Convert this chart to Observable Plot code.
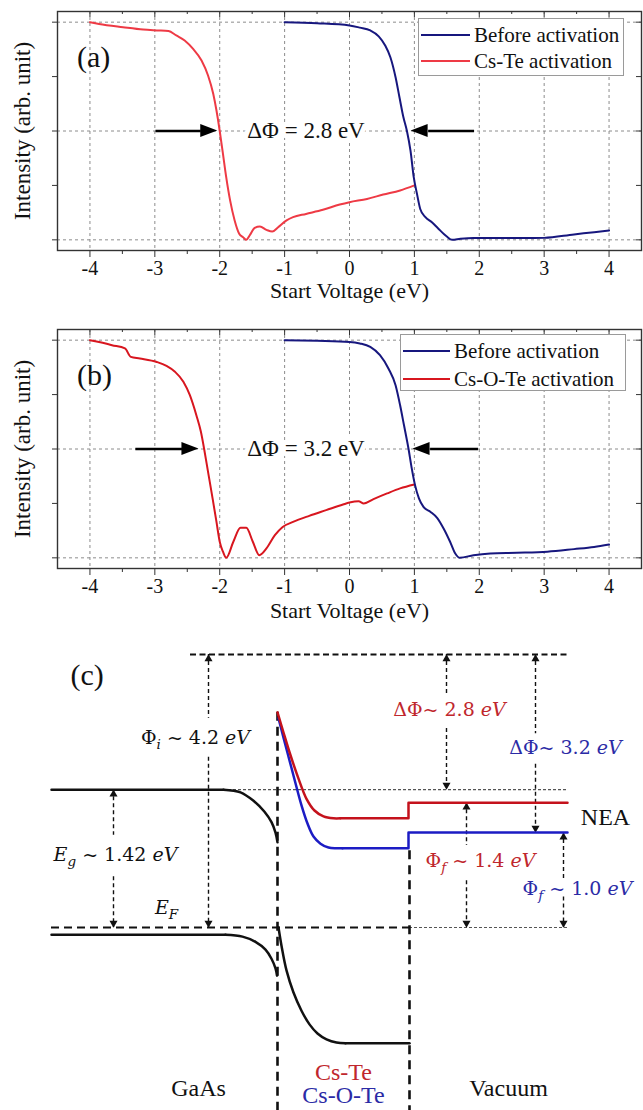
<!DOCTYPE html>
<html><head><meta charset="utf-8">
<script src="https://cdn.jsdelivr.net/npm/d3@7"></script>
<script src="https://cdn.jsdelivr.net/npm/@observablehq/plot@0.6"></script>
<style>
body{margin:0;background:#fff;}
#root{position:relative;width:643px;height:1110px;overflow:hidden;background:#fff;font-family:"Liberation Serif",serif;}
#root svg{position:absolute;left:0;}
.legend{position:absolute;border:1px solid #9a9a9a;background:#fff;box-sizing:border-box;}
.legend .row{position:absolute;left:0;height:26px;line-height:26px;white-space:nowrap;font-size:21px;color:#111;}
.legend .sw{position:absolute;top:12px;height:2.2px;}
.legend .lab{position:absolute;top:0;}
</style></head><body><div id="root"></div>
<script>
// ---------- DATA ----------
const xMajor = [-4, -3, -2, -1, 0, 1, 2, 3, 4];
const xMinor = [-3.5, -2.5, -1.5, -0.5, 0.5, 1.5, 2.5, 3.5];
const yMajor = [0, 0.5, 1];
const yMinor = [0.25, 0.75];

// panel (a)
const aBeforeX = [-1, -0.5, 0, 0.16, 0.32, 0.45, 0.55, 0.63, 0.71, 0.77, 0.83, 0.885, 0.94, 0.99, 1.04, 1.09, 1.17, 1.27, 1.37, 1.5, 1.58, 1.71, 1.91, 2.17, 2.69, 3.0, 3.46, 3.77, 4.0];
const aBeforeY = [1, 0.995, 0.985, 0.975, 0.962, 0.935, 0.893, 0.839, 0.747, 0.655, 0.564, 0.5, 0.41, 0.288, 0.211, 0.142, 0.104, 0.081, 0.051, 0.015, 0.0, 0.005, 0.009, 0.009, 0.008, 0.009, 0.025, 0.035, 0.043];
const aActX = [-4, -3.86, -3.49, -3.18, -2.97, -2.79, -2.67, -2.54, -2.41, -2.28, -2.18, -2.1, -2.05, -2.0, -1.95, -1.9, -1.84, -1.77, -1.7, -1.64, -1.59, -1.54, -1.46, -1.38, -1.28, -1.19, -1.1, -0.97, -0.87, -0.67, -0.41, -0.15, 0, 0.27, 0.52, 0.78, 1.0];
const aActY = [1.0, 0.992, 0.977, 0.966, 0.962, 0.959, 0.939, 0.916, 0.877, 0.824, 0.755, 0.671, 0.594, 0.5, 0.395, 0.288, 0.181, 0.089, 0.028, 0.012, 0.0, 0.02, 0.055, 0.061, 0.046, 0.038, 0.058, 0.089, 0.104, 0.119, 0.138, 0.162, 0.173, 0.188, 0.208, 0.227, 0.25];

// panel (b)
const bBeforeX = [-1, -0.5, 0, 0.16, 0.32, 0.47, 0.6, 0.71, 0.78, 0.84, 0.91, 0.96, 1.01, 1.07, 1.14, 1.25, 1.35, 1.45, 1.55, 1.63, 1.7, 1.91, 2.17, 2.58, 3.05, 3.46, 3.77, 4.0];
const bBeforeY = [1, 0.997, 0.992, 0.985, 0.969, 0.931, 0.87, 0.793, 0.701, 0.609, 0.5, 0.41, 0.334, 0.273, 0.234, 0.211, 0.184, 0.135, 0.074, 0.02, 0.0, 0.012, 0.02, 0.023, 0.028, 0.04, 0.05, 0.061];
const bActX = [-4, -3.86, -3.66, -3.46, -3.37, -3.23, -2.97, -2.82, -2.69, -2.56, -2.46, -2.36, -2.29, -2.24, -2.18, -2.11, -2.05, -2.0, -1.95, -1.9, -1.79, -1.68, -1.59, -1.49, -1.39, -1.28, -1.15, -1.03, -0.87, -0.62, -0.36, -0.1, 0, 0.14, 0.22, 0.37, 0.58, 0.78, 1.0];
const bActY = [1.0, 0.992, 0.977, 0.962, 0.923, 0.916, 0.9, 0.882, 0.855, 0.809, 0.747, 0.655, 0.579, 0.5, 0.395, 0.273, 0.165, 0.074, 0.028, 0.0, 0.074, 0.138, 0.138, 0.074, 0.012, 0.043, 0.104, 0.142, 0.165, 0.193, 0.219, 0.245, 0.254, 0.26, 0.25, 0.27, 0.296, 0.319, 0.337];

const seriesA = ["Before activation", "Cs-Te activation"];
const seriesB = ["Before activation", "Cs-O-Te activation"];
const deltaA = "ΔΦ = 2.8 eV";
const deltaB = "ΔΦ = 3.2 eV";
const arrowsA = [{from: -2.99, to: -2.03}, {from: 1.92, to: 0.95}];
const arrowsB = [{from: -3.3, to: -2.32}, {from: 1.98, to: 0.98}];
const xTitle = "Start Voltage (eV)";
const yTitle = "Intensity (arb. unit)";

// panel (c): x = position (arb.), y = energy relative to E_F (diagram units)
const cbGaAsFlat = [[51,2.12],[223,2.12]];
const cbGaAsBend = [[223,2.12],[240,2.08],[253,1.95],[264,1.78],[271,1.62],[275,1.46],[277,1.31]];
const vbGaAsFlat = [[51,-0.11],[225,-0.11]];
const vbGaAsBend = [[225,-0.11],[242,-0.14],[255,-0.22],[265,-0.34],[271,-0.48],[275,-0.63],[276.5,-0.74]];
const vbLayerBend = [[278,0],[281,-0.28],[286,-0.66],[293,-1.0],[301,-1.28],[309,-1.49],[317,-1.63],[326,-1.72],[336,-1.77],[345,-1.78]];
const vbLayerFlat = [[345,-1.78],[409,-1.78]];
const vacCsTeBend = [[277,3.31],[283,3.0],[290,2.65],[298,2.29],[306,1.98],[314,1.8],[323,1.71],[333,1.68],[340,1.68]];
const vacCsTeFlat = [[340,1.68],[408,1.68],[408,1.92],[567,1.92]];
const vacCsOTeBend = [[278,3.22],[283,2.92],[289,2.57],[295,2.22],[301,1.88],[307,1.6],[313,1.4],[320,1.29],[328,1.23],[336,1.22],[342,1.22]];
const vacCsOTeFlat = [[342,1.22],[408,1.22],[408,1.46],[567,1.46]];
const vacInitial = {y: 4.2, x1: 190, x2: 567};
const cbRef = {y: 2.12, x1: 223, x2: 567};
const fermi = {y: 0, x1: 51, x2: 409, x3: 567};
const interfaces = [{x: 277, y1: 3.31}, {x: 409, y1: 1.18}];
const arrowsC = [
  {x: 208, top: 4.2, bottom: 0, gTop: 3.22, gBot: 2.62},
  {x: 113, top: 2.12, bottom: 0, gTop: 1.42, gBot: 0.78},
  {x: 446, top: 4.2, bottom: 2.12, gTop: 3.58, gBot: 3.06},
  {x: 535, top: 4.2, bottom: 1.46, gTop: 2.98, gBot: 2.51},
  {x: 466, top: 1.92, bottom: 0, gTop: 1.26, gBot: 0.72},
  {x: 563, top: 1.46, bottom: 0, gTop: 0.75, gBot: 0.47}
];
const labelsC = [
  {x: 195, y: 2.91, t: "Φ{i} ~ 4.2 [eV]", c: "#111"},
  {x: 115, y: 1.11, t: "[E]{g} ~ 1.42 [eV]", c: "#111"},
  {x: 166, y: 0.3, t: "[E]{F}", c: "#111"},
  {x: 449, y: 3.34, t: "ΔΦ~ 2.8 [eV]", c: "#c0272d"},
  {x: 565, y: 2.77, t: "ΔΦ~ 3.2 [eV]", c: "#2b2ba6"},
  {x: 480, y: 1.03, t: "Φ{f} ~ 1.4 [eV]", c: "#c0272d"},
  {x: 577, y: 0.6, t: "Φ{f} ~ 1.0 [eV]", c: "#2b2ba6"}
];
const namesC = [
  {x: 605, y: 1.69, t: "NEA", c: "#111"},
  {x: 198, y: -2.48, t: "GaAs", c: "#111"},
  {x: 343, y: -2.22, t: "Cs-Te", c: "#c0272d"},
  {x: 343, y: -2.58, t: "Cs-O-Te", c: "#2b2ba6"},
  {x: 508, y: -2.48, t: "Vacuum", c: "#111"}
];

// ---------- STYLE ----------
const BLUE = "#17177e";
const RED_A = "#ee3a45";
const RED_B = "#d8161f";
const C_RED = "#c4121c";
const C_BLUE = "#1c1cc4";
const SERIF = "'Liberation Serif', 'Times New Roman', serif";
const MATH = "'DejaVu Serif', serif";

const root = document.getElementById("root");

function panel(cfg) {
  const W = 643, H = 306, mL = 57, mR = 2, mT = 11, mB = 56;
  const yDom = [-0.049, 1.049], xDom = [-4.5, 4.5];
  const pw = W - mL - mR, ph = H - mT - mB;
  const kx = pw / (xDom[1] - xDom[0]), ky = ph / (yDom[1] - yDom[0]);
  const before = cfg.bx.map((x, i) => ({x, y: cfg.by[i]}));
  const act = cfg.ax.map((x, i) => ({x, y: cfg.ay[i]}));
  const headL = 17 / kx, headW = 6.5 / ky, yA = 0.5;
  const arr = cfg.arrows.map((a, i) => ({...a, id: i, base: a.to - Math.sign(a.to - a.from) * headL}));
  const heads = arr.flatMap(a => [{id: a.id, x: a.base, y1: yA - headW, y2: yA + headW}, {id: a.id, x: a.to, y1: yA, y2: yA}]);
  const svg = Plot.plot({
    width: W, height: H, marginLeft: mL, marginRight: mR, marginTop: mT, marginBottom: mB,
    x: {domain: xDom}, y: {domain: yDom},
    style: {fontFamily: SERIF, fontSize: "20px", color: "#111", background: "transparent", overflow: "visible"},
    marks: [
      Plot.gridX(xMajor, {stroke: "#8c8c8c", strokeOpacity: 1, strokeWidth: 1, strokeDasharray: "3,3"}),
      Plot.gridY(yMajor, {stroke: "#8c8c8c", strokeOpacity: 1, strokeWidth: 1, strokeDasharray: "3,3"}),
      Plot.line(act, {x: "x", y: "y", stroke: cfg.red, strokeWidth: 2, curve: "monotone-x"}),
      Plot.line(before, {x: "x", y: "y", stroke: BLUE, strokeWidth: 2, curve: "monotone-x"}),
      Plot.link(arr, {x1: "from", x2: "base", y1: () => yA, y2: () => yA, stroke: "#000", strokeWidth: 2.6}),
      Plot.areaY(heads, {x: "x", y1: "y1", y2: "y2", z: "id", fill: "#000"}),
      Plot.text([cfg.delta], {x: () => -0.67, y: () => yA, text: d => d, fontSize: 23, fontFamily: SERIF, fill: "#111", stroke: "white", strokeWidth: 10}),
      Plot.text([cfg.tag], {x: () => -4.2, y: () => 0.84, text: d => d, fontSize: 30, fontFamily: SERIF, textAnchor: "start", fill: "#111"}),
      Plot.frame({stroke: "#333", strokeWidth: 1.4}),
      Plot.axisX(xMajor, {anchor: "bottom", tickSize: 7, tickPadding: 3, tickFormat: d => String(d), label: null, fontSize: 20, fontFamily: SERIF, stroke: "#333"}),
      Plot.axisX(xMinor, {anchor: "bottom", tickSize: 4, tickFormat: () => "", label: null, stroke: "#333"}),
      Plot.tickX(xMajor, {x: d => d, insetBottom: ph - 6, stroke: "#333"}),
      Plot.tickX(xMinor, {x: d => d, insetBottom: ph - 3, stroke: "#333"}),
      Plot.axisY(yMajor.concat(yMinor), {anchor: "left", tickSize: 5, tickFormat: () => "", label: null, stroke: "#333"}),
      Plot.tickY(yMajor.concat(yMinor), {y: d => d, insetLeft: pw - 5, stroke: "#333"}),
      Plot.text([xTitle], {frameAnchor: "bottom", dy: cfg.titleDy, text: d => d, fontSize: 22, fontFamily: SERIF, fill: "#111"}),
      Plot.text([yTitle], {frameAnchor: "left", dx: -35, rotate: -90, textAnchor: "middle", text: d => d, fontSize: 23, fontFamily: SERIF, fill: "#111"})
    ]
  });
  svg.style.top = cfg.top + "px";
  root.appendChild(svg);

  const lg = document.createElement("div");
  lg.className = "legend";
  Object.assign(lg.style, {left: cfg.lg.left + "px", top: cfg.lg.top + "px", width: cfg.lg.w + "px", height: cfg.lg.h + "px"});
  [[cfg.names[0], BLUE], [cfg.names[1], cfg.red]].forEach(([name, col], i) => {
    const row = document.createElement("div");
    row.className = "row";
    row.style.top = cfg.lg.rows[i] + "px";
    const sw = document.createElement("span");
    sw.className = "sw";
    Object.assign(sw.style, {left: "2px", width: cfg.lg.sw + "px", background: col});
    const lab = document.createElement("span");
    lab.className = "lab";
    lab.style.left = (cfg.lg.sw + 6) + "px";
    lab.textContent = name;
    row.appendChild(sw); row.appendChild(lab);
    lg.appendChild(row);
  });
  root.appendChild(lg);
}

panel({top: 0, bx: aBeforeX, by: aBeforeY, ax: aActX, ay: aActY, red: RED_A, arrows: arrowsA, delta: deltaA, tag: "(a)", names: seriesA, titleDy: 47,
  lg: {left: 418, top: 18, w: 206, h: 58, sw: 49, rows: [3, 29]}});
panel({top: 318, bx: bBeforeX, by: bBeforeY, ax: bActX, ay: bActY, red: RED_B, arrows: arrowsB, delta: deltaB, tag: "(b)", names: seriesB, titleDy: 49,
  lg: {left: 400, top: 334, w: 226, h: 57, sw: 47, rows: [3, 31]}});

// ---------- PANEL (c) ----------
function pts(a) { return a.map(([x, y]) => ({x, y})); }
const arrowSegs = arrowsC.flatMap(a => [{x: a.x, y1: a.top, y2: a.gTop}, {x: a.x, y1: a.gBot, y2: a.bottom}]);
const dashA = {stroke: "#111", strokeWidth: 1.4, strokeDasharray: "4,3"};
const bandLine = (d, col) => Plot.line(pts(d), {x: "x", y: "y", stroke: col, strokeWidth: 2.5, curve: "catmull-rom"});
const flatLine = (d, col) => Plot.line(pts(d), {x: "x", y: "y", stroke: col, strokeWidth: 2.5, curve: "linear"});
const svgC = Plot.plot({
  width: 643, height: 480, marginLeft: 0, marginRight: 0, marginTop: 0, marginBottom: 0,
  x: {domain: [0, 643], axis: null}, y: {domain: [-2.815, 4.569], axis: null},
  style: {fontFamily: SERIF, fontSize: "19px", background: "transparent", overflow: "visible"},
  marks: [
    Plot.ruleY([cbRef], {y: "y", x1: "x1", x2: "x2", stroke: "#555", strokeWidth: 1.2, strokeDasharray: "3,2"}),
    Plot.ruleY([fermi], {y: "y", x1: "x2", x2: "x3", stroke: "#555", strokeWidth: 1.2, strokeDasharray: "3,2"}),
    Plot.ruleY([fermi], {y: "y", x1: "x1", x2: "x2", stroke: "#111", strokeWidth: 2, strokeDasharray: "8,5"}),
    Plot.ruleY([vacInitial], {y: "y", x1: "x1", x2: "x2", stroke: "#111", strokeWidth: 2, strokeDasharray: "6,3.5"}),
    Plot.ruleX(interfaces, {x: "x", y1: "y1", y2: () => -2.815, stroke: "#111", strokeWidth: 2.6, strokeDasharray: "9,6"}),
    Plot.ruleX(arrowSegs, {x: "x", y1: "y1", y2: "y2", ...dashA}),
    Plot.dot(arrowsC, {x: "x", y: "top", symbol: "triangle", r: 3, fill: "#111", stroke: null, dy: 4.5}),
    Plot.dot(arrowsC, {x: "x", y: "bottom", symbol: "triangle", r: 3, rotate: 180, fill: "#111", stroke: null, dy: -4.5}),
    flatLine(cbGaAsFlat, "#111"),
    bandLine(cbGaAsBend, "#111"),
    flatLine(vbGaAsFlat, "#111"),
    bandLine(vbGaAsBend, "#111"),
    bandLine(vbLayerBend, "#111"),
    flatLine(vbLayerFlat, "#111"),
    bandLine(vacCsOTeBend, C_BLUE),
    flatLine(vacCsOTeFlat, C_BLUE),
    bandLine(vacCsTeBend, C_RED),
    flatLine(vacCsTeFlat, C_RED),
    Plot.text(labelsC, {x: "x", y: "y", text: "t", fill: "c", fontSize: 19, fontFamily: MATH}),
    Plot.text(namesC, {x: "x", y: "y", text: "t", fill: "c", fontSize: 24, fontFamily: SERIF}),
    Plot.text(["(c)"], {x: () => 70, y: () => 3.88, text: d => d, textAnchor: "start", fontSize: 30, fill: "#111", fontFamily: SERIF})
  ]
});
svgC.style.top = "630px";
root.appendChild(svgC);

// rich text: [..] italic, {..} italic subscript
(function richify(svg) {
  const NS = "http://www.w3.org/2000/svg";
  svg.querySelectorAll("text").forEach(t => {
    const s = t.textContent;
    if (!/[\[{]/.test(s)) return;
    t.textContent = "";
    const re = /\[([^\]]*)\]|\{([^}]*)\}|([^\[{]+)/g;
    let m, shifted = false;
    while ((m = re.exec(s))) {
      const ts = document.createElementNS(NS, "tspan");
      if (m[2] !== undefined) {
        ts.setAttribute("font-style", "italic");
        ts.setAttribute("font-size", "13.5px");
        ts.setAttribute("dy", "5");
        ts.textContent = m[2];
        shifted = true;
      } else {
        if (shifted) { ts.setAttribute("dy", "-5"); shifted = false; }
        if (m[1] !== undefined) ts.setAttribute("font-style", "italic");
        ts.textContent = m[1] !== undefined ? m[1] : m[3];
      }
      t.appendChild(ts);
    }
  });
})(svgC);
</script>
</body></html>
